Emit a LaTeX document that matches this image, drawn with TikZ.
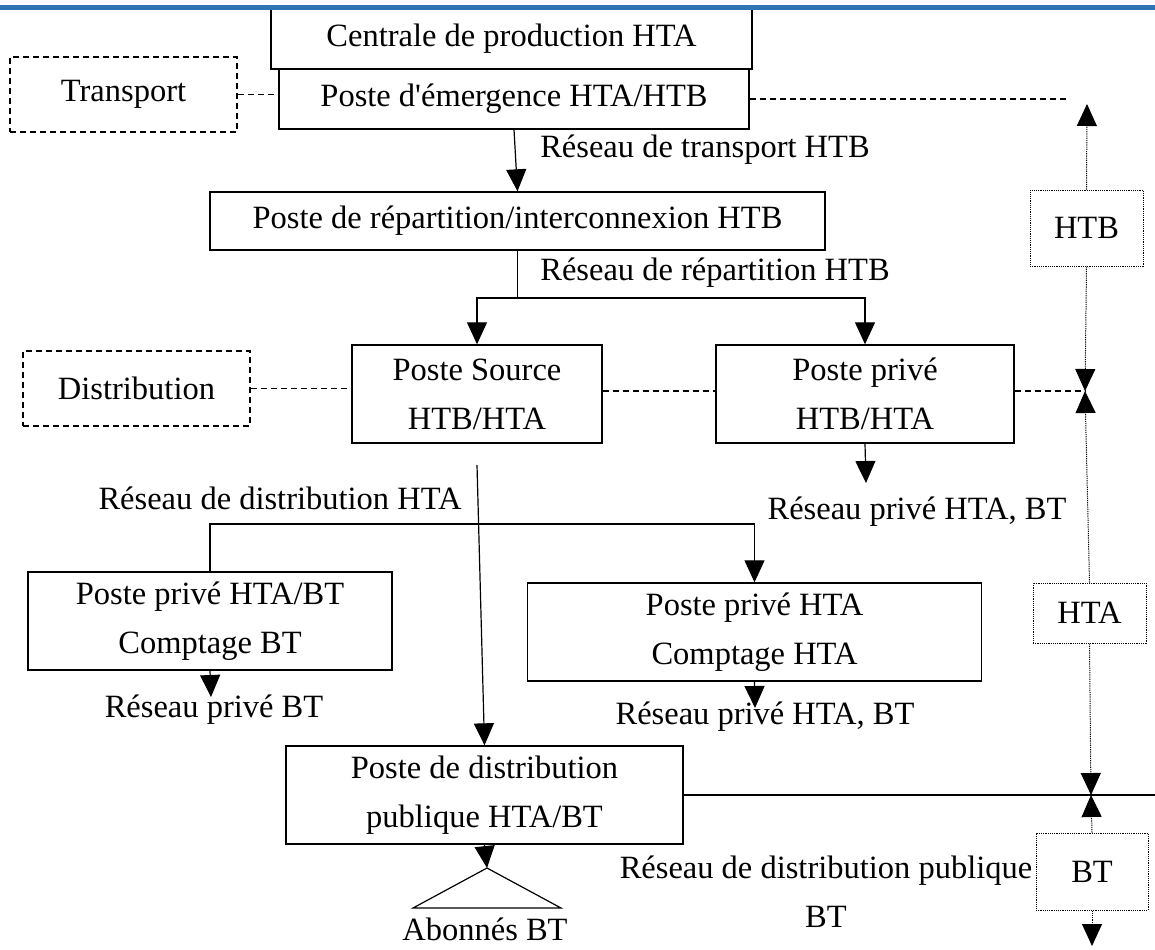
\documentclass[tikz,border=0pt]{standalone}
\usepackage{fontspec}
\setmainfont{Liberation Serif}
\usetikzlibrary{arrows.meta}
\usetikzlibrary{calc}
\usetikzlibrary{positioning}

\definecolor{ruleblue}{RGB}{46,116,181}

\begin{document}
\begin{tikzpicture}[
  x=0.5pt, y=-0.5pt,
  every node/.style={font=\fontsize{16.25pt}{24.5pt}\selectfont},
  > = {Triangle[length=11pt,width=10pt]},
  poste/.style = {draw, line width=0.7pt, align=center, inner sep=0pt},
  niveau/.style = {draw, dash pattern=on 3pt off 2pt, line width=0.6pt, inner sep=0pt},
  niveautension/.style = {draw, dash pattern=on 0.6pt off 0.5pt, line width=0.5pt, inner sep=0pt},
  lien/.style = {dash pattern=on 3pt off 2pt, line width=0.6pt},
  fil/.style = {line width=0.6pt},
  pointille/.style = {dash pattern=on 0.6pt off 0.5pt, line width=0.5pt},
  reseau/.style = {align=center, inner sep=0pt}
  ]
  \useasboundingbox (0,0) rectangle (1155,949);

  % postes
  \node[poste, minimum width=240.5pt, minimum height=30.5pt] (centrale) at (511.5,38.5) {Centrale de production HTA};
  \node[poste, minimum width=235pt, minimum height=30pt] (emergence) at (514,99) {Poste d\textquotesingle émergence HTA/HTB};
  \node[poste, minimum width=307.5pt, minimum height=29pt] (repartition) at (517.5,221) {Poste de répartition/interconnexion HTB};
  \node[poste, minimum width=125pt, minimum height=49pt] (source) at (477,394) {Poste Source\\HTB/HTA};
  \node[poste, minimum width=149pt, minimum height=49pt] (prive) at (865,394) {Poste privé\\HTB/HTA};
  \node[poste, minimum width=182pt, minimum height=49pt] (privebt) at (210,621) {Poste privé HTA/BT\\Comptage BT};
  \node[poste, minimum width=227pt, minimum height=49pt] (privehta) at (754.5,632) {Poste privé HTA\\Comptage HTA};
  \node[poste, minimum width=198.5pt, minimum height=49pt] (distpub) at (484.5,795) {Poste de distribution\\publique HTA/BT};

  \draw[ruleblue, line width=2.5pt] (0,7) -- (1155,7);

  % niveaux
  \node[niveau, minimum width=113.5pt, minimum height=37.5pt] (transport) at (123.5,94.5) {Transport};
  \node[niveau, minimum width=113.5pt, minimum height=37.5pt] (distribution) at (136.5,388.5) {Distribution};

  \node[niveautension, minimum width=56.5pt, minimum height=38pt] (htb) at (1086.5,228) {HTB};
  \node[niveautension, minimum width=56.5pt, minimum height=30pt] (hta) at (1089.5,613) {HTA};
  \node[niveautension, minimum width=56pt, minimum height=38.5pt] (bt) at (1092,871.5) {BT};

  % reseaux
  \node[reseau] (lbltransport) at (705,150) {Réseau de transport HTB};
  \node[reseau] (lblrepartition) at (715,273) {Réseau de répartition HTB};
  \node[reseau] (lbldistrib) at (280,498) {Réseau de distribution HTA};
  \node[reseau] (lblprive) at (917,512) {Réseau privé HTA, BT};
  \node[reseau] (lblprivebt) at (214,710) {Réseau privé BT};
  \node[reseau] (lblprivehta) at (765,717) {Réseau privé HTA, BT};
  \node[reseau] (lblpublique) at (826,892) {Réseau de distribution publique\\BT};
  \node[reseau] (abonnes) at (485,929) {Abonnés BT};

  \coordinate (branche) at (517.5,298);
  \coordinate (barre) at (480,524);
  \coordinate (sourcebas) at (477,465);
  \coordinate (privebas) at (866,483);
  \coordinate (privebtbas) at (211,697);
  \coordinate (privehtabas) at (755,708);
  \coordinate (sommet) at (487,868);
  \coordinate (bord) at (1155,795);
  \coordinate (htbhaut) at (1087,104);
  \coordinate (jonction1) at (1085,391);
  \coordinate (jonction2) at (1091,795);
  \coordinate (btbas) at (1092,946);

  \draw[fil,->] (emergence.south) -- (repartition.north);
  \draw[fil] (repartition.south) -- (branche);
  \draw[fil,->] (branche) -| (source.north);
  \draw[fil,->] (branche) -| (prive.north);
  \draw[fil,->] (prive.south) -- (privebas);
  \draw[fil,->] (sourcebas) -- (distpub.north);
  \draw[fil,->] (privebt.north) |- (barre) -| (privehta.north);
  \draw[fil,->] (privebt.south) -- (privebtbas);
  \draw[fil,->] (privehta.south) -- (privehtabas);
  \draw[fil,->] (distpub.south) -- (sommet);
  \draw[fil] (sommet) -- (413,908) -- (561,908) -- cycle;
  \draw[fil] (distpub.east) -- (distpub.east -| bord);

  \draw[lien] (transport.east) -- (transport.east -| emergence.west);
  \draw[lien, shorten >=9.5pt] (emergence.east) -- (emergence.east -| htbhaut);
  \draw[lien] (distribution.east) -- (distribution.east -| source.west);
  \draw[lien] ($(source.east)+(0,-3)$) -- ($(prive.west)+(0,-3)$);
  \draw[lien] (prive.east |- jonction1) -- (jonction1);

  \draw[pointille,->] (htb.north) -- (htbhaut);
  \draw[pointille,->] (htb.south) -- (jonction1);
  \draw[pointille,->] (hta.north) -- (jonction1);
  \draw[pointille,->] (hta.south) -- (jonction2);
  \draw[pointille,->] (bt.north) -- (jonction2);
  \draw[pointille,->] (bt.south) -- (btbas);

\end{tikzpicture}
\end{document}
